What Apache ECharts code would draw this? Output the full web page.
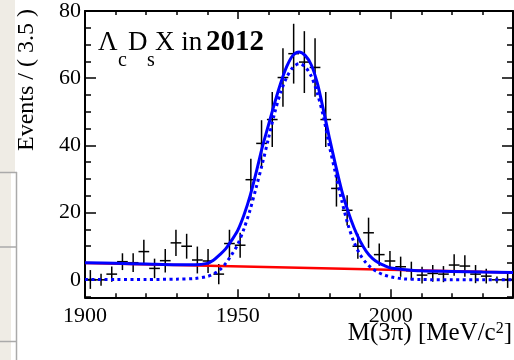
<!DOCTYPE html>
<html>
<head>
<meta charset="utf-8">
<script src="https://cdn.jsdelivr.net/npm/echarts@6/dist/echarts.min.js"></script>
<style>
  html, body { margin: 0; padding: 0; background: #fff; }
  #chart { width: 514px; height: 360px; }
</style>
</head>
<body>
<div id="chart"></div>
<script>
// bin centres of the M(3pi) histogram, 3.5 MeV bins
const massBins = [1901.75, 1905.25, 1908.75, 1912.25, 1915.75, 1919.25, 1922.75, 1926.25, 1929.75, 1933.25,
    1936.75, 1940.25, 1943.75, 1947.25, 1950.75, 1954.25, 1957.75, 1961.25, 1964.75, 1968.25,
    1971.75, 1975.25, 1978.75, 1982.25, 1985.75, 1989.25, 1992.75, 1996.25, 1999.75, 2003.25,
    2006.75, 2010.25, 2013.75, 2017.25, 2020.75, 2024.25, 2027.75, 2031.25, 2034.75, 2038.25];
const binHalfWidth = 1.75;
const events = [0.1, 0.0, 1.7, 5.4, 5.1, 8.4, 3.4, 5.7, 11.0, 10.0,
    5.9, 5.6, 1.7, 10.8, 10.3, 29.8, 40.6, 47.7, 60.2, 67.3,
    64.8, 63.2, 47.7, 27.2, 20.7, 10.0, 14.0, 7.5, 5.6, 3.9,
    2.7, 1.4, 1.9, 1.7, 4.4, 4.1, 1.7, 1.1, 0.0, 0.1];
const eventErrors = [2.8, 1.8, 2.3, 2.5, 2.8, 3.5, 2.9, 3.5, 3.9, 3.7,
    4.0, 3.6, 3.0, 4.1, 3.7, 6.2, 6.9, 8.2, 8.7, 8.9,
    9.2, 8.7, 8.2, 5.4, 4.5, 3.7, 4.5, 3.3, 3.0, 3.0,
    2.7, 2.5, 2.5, 2.4, 3.2, 3.2, 2.7, 2.2, 1.0, 2.5];

// fit curves
const curveMass = [1900, 1910, 1920, 1930, 1936, 1940, 1942, 1944, 1946, 1948,
    1950, 1952, 1954, 1956, 1958, 1960, 1962, 1964, 1966, 1968,
    1970, 1972, 1974, 1976, 1978, 1980, 1982, 1984, 1986, 1988,
    1990, 1992, 1994, 1996, 1998, 2000, 2004, 2010, 2020, 2030, 2040];
const totalFit = [5.1, 4.9, 4.7, 4.5, 4.5, 4.9, 5.8, 7.4, 9.2, 11.8,
    14.8, 19.3, 25.0, 32.0, 39.5, 46.0, 52.5, 58.5, 63.5, 66.8,
    67.8, 66.8, 64.0, 58.5, 50.5, 42.0, 34.0, 26.5, 20.5, 15.5,
    11.5, 8.5, 6.4, 5.1, 4.2, 3.5, 3.1, 2.7, 2.5, 2.3, 2.2];
const signalFit = [0.1, 0.1, 0.1, 0.2, 0.4, 1.0, 1.7, 2.9, 4.9, 7.5,
    10.6, 15.2, 20.8, 27.5, 34.5, 42.0, 49.5, 55.8, 60.3, 63.2,
    64.3, 63.4, 60.6, 55.5, 48.5, 39.5, 31.5, 23.5, 16.5, 11.2,
    7.5, 5.0, 3.3, 2.2, 1.4, 0.9, 0.3, 0.1, 0.0, 0.0, 0.0];
const bkgMass = [1900, 2040];
const bkgFit = [5.0, 2.2];

// axis ticks
const xLabels = [1900, 1950, 2000];
const xMinorTicks = [1910, 1920, 1930, 1940, 1960, 1970, 1980, 1990, 2010, 2020, 2030];
const yLabels = [0, 20, 40, 60, 80];
const yMinorTicks = [-5, 5, 10, 15, 25, 30, 35, 45, 50, 55, 65, 70, 75];

const serif = "'Liberation Serif', 'DejaVu Serif', serif";
const black = "#000";

function xAxisDef(position, ticks, len, withLine, labels) {
    return {
        type: 'value', min: 1900, max: 2040, position: position,
        splitLine: {show: false},
        axisLine: {show: withLine, onZero: false, lineStyle: {color: black, width: 2}},
        axisTick: {show: true, inside: true, length: len, customValues: ticks,
            lineStyle: {color: black, width: 1.5}},
        axisLabel: labels ? {show: true, customValues: labels, fontFamily: serif, fontSize: 22,
            color: black, margin: 8, formatter: v => String(v)} : {show: false}
    };
}

function yAxisDef(position, ticks, len, withLine, labels) {
    return {
        type: 'value', min: -5.2, max: 80, position: position,
        splitLine: {show: false},
        axisLine: {show: withLine, onZero: false, lineStyle: {color: black, width: 2}},
        axisTick: {show: true, inside: true, length: len, customValues: ticks,
            lineStyle: {color: black, width: 1.5}},
        axisLabel: labels ? {show: true, customValues: labels, fontFamily: serif, fontSize: 22,
            color: black, margin: 4} : {show: false}
    };
}

function label(text, x, y, size, bold) {
    return {
        type: 'text', x: x, y: y,
        style: {text: text, fontFamily: serif, fontSize: size, fontWeight: bold ? 'bold' : 'normal',
            fill: black, align: 'left', verticalAlign: 'middle'}
    };
}

let option = {
    animation: false,
    backgroundColor: '#fff',
    grid: {left: 85, right: 1, top: 10.6, bottom: 62.7, containLabel: false},
    xAxis: [
        xAxisDef('bottom', xLabels, 8, true, xLabels),
        xAxisDef('bottom', xMinorTicks, 4, false, null),
        xAxisDef('top', xLabels, 8, true, null),
        xAxisDef('top', xMinorTicks, 4, false, null)
    ],
    yAxis: [
        yAxisDef('left', yLabels, 11, true, yLabels),
        yAxisDef('left', yMinorTicks, 6, false, null),
        yAxisDef('right', yLabels, 11, true, null),
        yAxisDef('right', yMinorTicks, 6, false, null)
    ],
    graphic: [
        // page background strip on the left
        {type: 'rect', shape: {x: 0, y: 0, width: 15, height: 172}, style: {fill: '#efece5'}, z: -1},
        {type: 'rect', shape: {x: 0, y: 172, width: 11, height: 188}, style: {fill: '#efece5'}, z: -1},
        {type: 'line', shape: {x1: 16.5, y1: 172, x2: 16.5, y2: 360}, style: {stroke: '#aaa', lineWidth: 1.5}},
        {type: 'line', shape: {x1: 0, y1: 172.5, x2: 17, y2: 172.5}, style: {stroke: '#aaa', lineWidth: 1.5}},
        {type: 'line', shape: {x1: 0, y1: 247, x2: 17, y2: 247}, style: {stroke: '#aaa', lineWidth: 1.5}},
        {type: 'line', shape: {x1: 0, y1: 341.5, x2: 17, y2: 341.5}, style: {stroke: '#aaa', lineWidth: 1.5}},
        {
            type: 'text', x: 27, y: 80, rotation: Math.PI / 2,
            style: {text: 'Events / ( 3.5 )', fontFamily: serif, fontSize: 24, fill: black,
                align: 'center', verticalAlign: 'middle'}
        },
        {
            type: 'text', x: 512, y: 321,
            style: {
                text: '{n|M(3π) [MeV/c}{p|2}{n|]}', align: 'right', verticalAlign: 'top', fill: black,
                rich: {
                    n: {fontFamily: serif, fontSize: 25, lineHeight: 30, verticalAlign: 'top', fill: black},
                    p: {fontFamily: serif, fontSize: 16, lineHeight: 20, verticalAlign: 'top', fill: black}
                }
            }
        },
        // Λc Ds X in 2012
        label('Λ', 98, 43, 27),
        label('c', 118, 61, 20),
        label('D', 128, 43, 27),
        label('s', 147, 61, 20),
        label('X in', 155, 43, 27),
        label('2012', 206, 43, 29, true)
    ],
    series: [
        {
            name: 'data',
            type: 'custom',
            z: 2,
            data: massBins.map((m, i) => [m, events[i], eventErrors[i]]),
            renderItem: function (params, api) {
                let m = api.value(0), v = api.value(1), e = api.value(2);
                let left = api.coord([m - binHalfWidth, v]);
                let right = api.coord([m + binHalfWidth, v]);
                let top = api.coord([m, v + e]);
                let bottom = api.coord([m, v - e]);
                let style = {stroke: black, lineWidth: 1.5};
                return {
                    type: 'group',
                    children: [
                        {type: 'line', shape: {x1: left[0], y1: left[1], x2: right[0], y2: right[1]}, style: style},
                        {type: 'line', shape: {x1: top[0], y1: top[1], x2: bottom[0], y2: bottom[1]}, style: style}
                    ]
                };
            }
        },
        {
            name: 'background',
            type: 'line',
            z: 3,
            data: bkgMass.map((m, i) => [m, bkgFit[i]]),
            showSymbol: false,
            lineStyle: {color: '#ff0000', width: 2.5}
        },
        {
            name: 'signal',
            type: 'line',
            z: 4,
            data: curveMass.map((m, i) => [m, signalFit[i]]),
            showSymbol: false,
            smooth: 0.3,
            lineStyle: {color: '#0000ff', width: 3, type: [3, 3.5]}
        },
        {
            name: 'total',
            type: 'line',
            z: 5,
            data: curveMass.map((m, i) => [m, totalFit[i]]),
            showSymbol: false,
            smooth: 0.3,
            lineStyle: {color: '#0000ff', width: 3}
        }
    ]
};

let chart = echarts.init(document.getElementById('chart'));
chart.setOption(option);
</script>
</body>
</html>
